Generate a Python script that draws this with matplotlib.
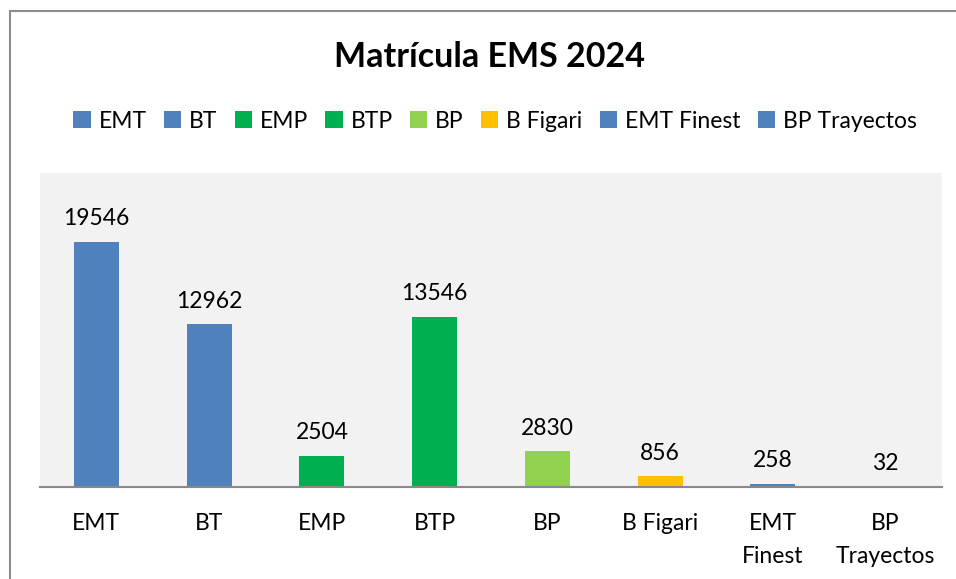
import matplotlib.pyplot as plt
from matplotlib.lines import Line2D

plt.rcParams['font.family'] = ['Lato', 'DejaVu Sans']

# Datos
programas = ['EMT', 'BT', 'EMP', 'BTP', 'BP', 'B Figari', 'EMT Finest', 'BP Trayectos']
etiquetas = ['EMT', 'BT', 'EMP', 'BTP', 'BP', 'B Figari', 'EMT\nFinest', 'BP\nTrayectos']
matricula = [19546, 12962, 2504, 13546, 2830, 856, 258, 32]
colores = ['#4f81bd', '#4f81bd', '#00b050', '#00b050', '#92d050', '#ffc000', '#4f81bd', '#4f81bd']

fig = plt.figure(figsize=(9.56, 5.79), dpi=100)
ax = fig.add_axes([40 / 956, 1 - 487 / 579, 902 / 956, 314 / 579])
ax.set_facecolor('#f2f2f2')

x = list(range(len(programas)))
for i in x:
    ax.bar(i, matricula[i], width=0.4, color=colores[i], label=programas[i])
    ax.annotate(str(matricula[i]), (i, matricula[i]), xytext=(0, 9), textcoords='offset points',
                ha='center', va='bottom', fontsize=16.5)

ax.set_xlim(-0.5, len(programas) - 0.5)
ax.set_ylim(0, 25000)
ax.set_yticks([])
ax.set_xticks(x)
ax.set_xticklabels(etiquetas, fontsize=16.5, linespacing=1.7)
ax.tick_params(axis='x', length=0, pad=19)
for s in ['top', 'right', 'left']:
    ax.spines[s].set_visible(False)
ax.spines['bottom'].set_color('#898989')
ax.spines['bottom'].set_linewidth(1.5)

fig.text(490 / 956, 1 - 57 / 579, 'Matrícula EMS 2024', ha='center', va='center',
         fontsize=24.5, fontweight='bold')

fig.legend(loc='center', bbox_to_anchor=(495 / 956, 1 - 121 / 579), ncol=8, frameon=False,
           fontsize=16.5, handlelength=0.75, handleheight=0.75, handletextpad=0.35,
           columnspacing=0.75)

# marco del gráfico
fig.add_artist(Line2D([9.5 / 956, 9.5 / 956], [0, 1 - 11 / 579], color='#8c8c8c', lw=1.5))
fig.add_artist(Line2D([9.5 / 956, 1], [1 - 11 / 579, 1 - 11 / 579], color='#8c8c8c', lw=1.5))

fig.savefig('out.png', dpi=100)
